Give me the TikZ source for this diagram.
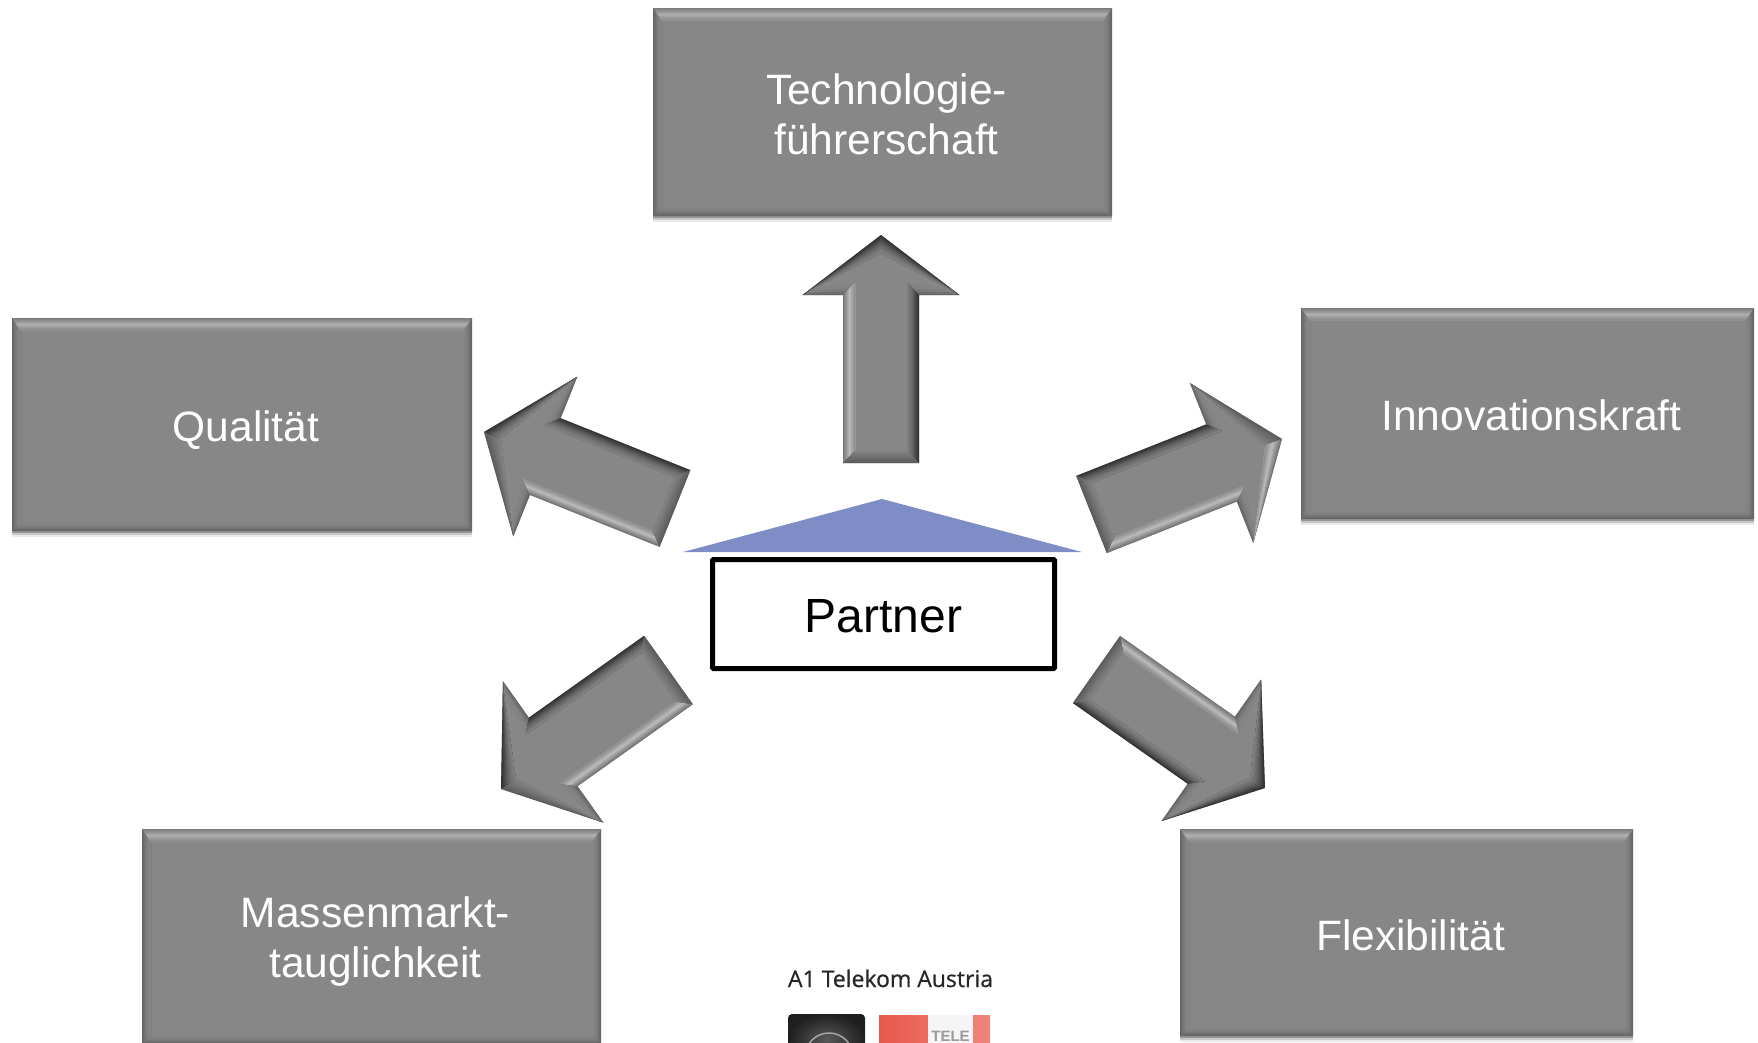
\documentclass[tikz,border=0pt]{standalone}
\usepackage{fontspec}
\setmainfont{Liberation Sans}
\newfontfamily\logofont[RawFeature={embolden=0.6}]{Open Sans}
\usetikzlibrary{calc,shadows}

\definecolor{face}{HTML}{878787}
\definecolor{lightout}{HTML}{767676}
\definecolor{lightmid}{HTML}{BBBBBB}
\definecolor{darkout}{HTML}{333333}
\definecolor{darkmid}{HTML}{666666}
\definecolor{midout}{HTML}{5C5C5C}
\definecolor{midmid}{HTML}{727272}
\definecolor{sideout}{HTML}{666666}
\definecolor{sidemid}{HTML}{808080}
\definecolor{topout}{HTML}{7A7A7A}
\definecolor{topmid}{HTML}{B0B0B0}
\definecolor{roofblue}{HTML}{7F8DC6}
\definecolor{logoredleft}{HTML}{E8584C}
\definecolor{logoredright}{HTML}{F0857A}

\tikzstyle{every node}=[outer sep=0pt,inner sep=0pt]
\tikzstyle{goaltext}=[text=white,align=center,xshift=4pt,font=\fontsize{42.5}{50}\selectfont]
\tikzstyle{goalbox}=[fill=face,
  general shadow={shadow xshift=0pt,shadow yshift=-2pt,opacity=.25,fill=black},
  general shadow={shadow xshift=0pt,shadow yshift=-4pt,opacity=.15,fill=black},
  general shadow={shadow xshift=0pt,shadow yshift=-6pt,opacity=.08,fill=black}]
\tikzstyle{partnerbox}=[draw=black,line width=5pt,rounded corners=1pt,fill=white,
  minimum width=342pt,minimum height=109pt]
\tikzstyle{partnertext}=[yshift=-2pt,font=\fontsize{48}{56}\selectfont]

% one bevelled edge: outer edge #1-#2, inner edge #4-#3, tone #5
\newcommand{\bevelquad}[5]{%
  \foreach \i in {0,...,4}{
    \pgfmathsetmacro\t{\i/10}
    \pgfmathtruncatemacro\p{100-20*\i}
    \fill[#5out!\p!#5mid] ($(#1)!\t!(#4)$) -- ($(#2)!\t!(#3)$) -- (#3) -- (#4) -- cycle;
  }
  \foreach \i in {0,...,4}{
    \pgfmathsetmacro\t{.5+\i/10}
    \pgfmathtruncatemacro\p{100-20*\i}
    \fill[#5mid!\p!face] ($(#1)!\t!(#4)$) -- ($(#2)!\t!(#3)$) -- (#3) -- (#4) -- cycle;
  }
}

\newcommand{\bevelbox}[1]{%
  \coordinate (nw) at (#1.north west);
  \coordinate (ne) at (#1.north east);
  \coordinate (se) at (#1.south east);
  \coordinate (sw) at (#1.south west);
  \coordinate (inw) at ($(nw)+(9,12)$);
  \coordinate (ine) at ($(ne)+(-9,12)$);
  \coordinate (ise) at ($(se)+(-9,-9)$);
  \coordinate (isw) at ($(sw)+(9,-9)$);
  \bevelquad{ne}{se}{ise}{ine}{side}
  \bevelquad{se}{sw}{isw}{ise}{side}
  \bevelquad{sw}{nw}{inw}{isw}{side}
  \bevelquad{nw}{ne}{ine}{inw}{top}
}

% tail, tip, half shaft, half head, head length, tones: shaft l/r, head l/r
\newcommand{\bevelarrow}[9]{%
  \path let \p1=($(#2)-(#1)$) in \pgfextra{
    \pgfmathparse{atan2(\y1,\x1)}\xdef\arrowang{\pgfmathresult}
    \pgfmathparse{veclen(\x1,\y1)}\xdef\arrowlen{\pgfmathresult}
    \pgfmathparse{\arrowlen-#5}\xdef\arrowneck{\pgfmathresult}
  };
  \begin{scope}[shift={(#1)},rotate=\arrowang]
    \coordinate (tl) at (0,-#3);
    \coordinate (tr) at (0,#3);
    \coordinate (jl) at (\arrowneck,-#3);
    \coordinate (jr) at (\arrowneck,#3);
    \coordinate (hl) at (\arrowneck,-#4);
    \coordinate (hr) at (\arrowneck,#4);
    \coordinate (pk) at (\arrowlen,0);
    \coordinate (itl) at (12,-#3+12);
    \coordinate (itr) at (12,#3-12);
    \coordinate (ijl) at (\arrowneck+12,-#3+12);
    \coordinate (ijr) at (\arrowneck+12,#3-12);
    \coordinate (ihl) at (\arrowneck+5,-#4+8);
    \coordinate (ihr) at (\arrowneck+5,#4-8);
    \coordinate (ipk) at (\arrowlen-18,0);
    \fill[face] (tl) -- (jl) -- (hl) -- (pk) -- (hr) -- (jr) -- (tr) -- cycle;
    \bevelquad{hl}{jl}{ijl}{ihl}{side}
    \bevelquad{hr}{jr}{ijr}{ihr}{side}
    \bevelquad{jl}{tl}{itl}{ijl}{#6}
    \bevelquad{jr}{tr}{itr}{ijr}{#7}
    \bevelquad{tl}{tr}{itr}{itl}{mid}
    \bevelquad{pk}{hl}{ihl}{ipk}{#8}
    \bevelquad{pk}{hr}{ihr}{ipk}{#9}
  \end{scope}
}

\begin{document}
\begin{tikzpicture}[x=1pt,y=-1pt]
  \useasboundingbox (0,0) rectangle (1758,1042);
  \clip (0,0) rectangle (1758,1042);

  \node [goalbox,minimum width=459pt,minimum height=208pt,
    label={[goaltext,yshift=-2.5pt]center:{Technologie-\\führerschaft}}] (tech) at (882.5,112) {};
  \node [goalbox,minimum width=460pt,minimum height=213pt,
    label={[goaltext,yshift=-5.5pt]center:{Qualität}}] (qual) at (242,424.5) {};
  \node [goalbox,minimum width=453pt,minimum height=211pt,
    label={[goaltext,yshift=-1.5pt]center:{Innovationskraft}}] (inno) at (1527.5,413.5) {};
  \node [goalbox,minimum width=459pt,minimum height=215pt,
    label={[goaltext,yshift=-4.5pt]center:{Massenmarkt-\\tauglichkeit}}] (mass) at (371.5,936.5) {};
  \node [goalbox,minimum width=453pt,minimum height=207pt,
    label={[goaltext,yshift=-3pt]center:{Flexibilität}}] (flex) at (1406.5,932.5) {};
  \foreach \b in {tech,qual,inno,mass,flex} {\bevelbox{\b}}

  \coordinate (uptail) at (881,463);
  \coordinate (uptip) at (881,235);
  \coordinate (qualtail) at (675,508.5);
  \coordinate (qualtip) at (484,432);
  \coordinate (innotail) at (1091.5,514.5);
  \coordinate (innotip) at (1282,439);
  \coordinate (masstail) at (668.5,670);
  \coordinate (masstip) at (501,789);
  \coordinate (flextail) at (1096.5,669.5);
  \coordinate (flextip) at (1265,788);
  \bevelarrow{uptail}{uptip}{38}{78.5}{60}{light}{dark}{dark}{dark}
  \bevelarrow{qualtail}{qualtip}{41.3}{86}{66}{light}{dark}{mid}{dark}
  \bevelarrow{innotail}{innotip}{41.5}{86}{65}{dark}{light}{mid}{light}
  \bevelarrow{masstail}{masstip}{42}{86.7}{64}{light}{dark}{mid}{dark}
  \bevelarrow{flextail}{flextip}{41}{86.5}{65.6}{light}{dark}{dark}{dark}

  \fill[roofblue] (683,552) -- (882,499) -- (1082,552) -- cycle;
  \node [partnerbox,label={[partnertext]center:Partner}] (partner) at (883.5,614) {};

  \node [anchor=base west,font=\logofont\fontsize{23}{27}\selectfont,text=black!85] (logotext) at (788,987) {A1 Telekom Austria};
  \node [anchor=north west,minimum width=77pt,minimum height=50pt,rounded corners=4pt,
    inner color=black!65,outer color=black!88] (logodark) at (788,1014) {};
  \coordinate (logoarc) at (805,1057);
  \draw [white!65!black,line width=1.5pt] (logoarc) arc (180:360:24);
  \node [anchor=north west,minimum width=111pt,minimum height=40pt,
    left color=logoredleft,right color=logoredright] (logored) at (879,1015) {};
  \node [anchor=north west,minimum width=45pt,minimum height=40pt,fill=white!96!black] (logotele) at (928,1015) {};
  \node [anchor=base,font=\bfseries\fontsize{15}{18}\selectfont,text=black!40] (logoword) at (950.5,1041.5) {TELE};
\end{tikzpicture}
\end{document}
